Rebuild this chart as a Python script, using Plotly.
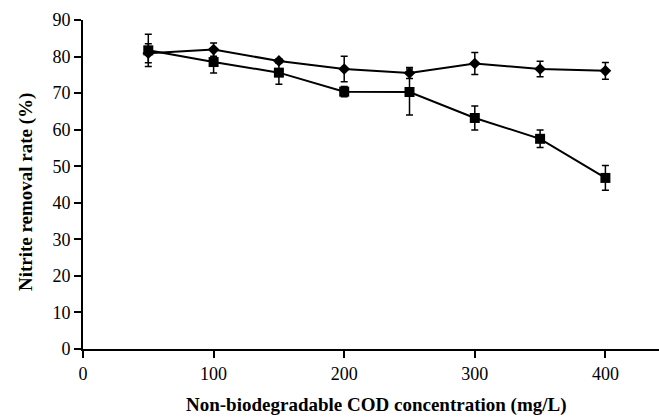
import plotly.graph_objects as go

cod = [50, 100, 150, 200, 250, 300, 350, 400]
diamond_rate = [80.9, 81.9, 78.8, 76.6, 75.5, 78.1, 76.6, 76.1]
diamond_err = [2.6, 1.8, 0.6, 3.5, 1.5, 3.0, 2.1, 2.3]
square_rate = [81.7, 78.5, 75.6, 70.4, 70.3, 63.2, 57.5, 46.8]
square_err = [4.4, 3.0, 3.2, 1.4, 6.3, 3.3, 2.4, 3.4]
x_ticks = [0, 100, 200, 300, 400]
y_ticks = [0, 10, 20, 30, 40, 50, 60, 70, 80, 90]

W, H = 659, 417
L, R, T, B = 83, 0, 19.5, 67.7

fig = go.Figure()
fig.add_trace(go.Scatter(
    x=cod, y=diamond_rate, mode="lines+markers",
    line=dict(color="black", width=2),
    marker=dict(symbol="diamond", size=9, color="black"),
    error_y=dict(type="data", array=diamond_err, visible=True, color="black", thickness=1.5, width=3.5),
    showlegend=False, cliponaxis=False))
fig.add_trace(go.Scatter(
    x=cod, y=square_rate, mode="lines+markers",
    line=dict(color="black", width=2),
    marker=dict(symbol="square", size=10, color="black"),
    error_y=dict(type="data", array=square_err, visible=True, color="black", thickness=1.5, width=3.5),
    showlegend=False, cliponaxis=False))

font = dict(family="Liberation Serif", size=18, color="black")
tfont = dict(family="Liberation Serif", size=19, color="black")
fig.update_layout(
    width=W, height=H,
    margin=dict(l=L, r=R, t=T, b=B, pad=0),
    paper_bgcolor="white", plot_bgcolor="white",
    font=font,
    xaxis=dict(range=[0, (W - L) / 1.306], tickvals=x_ticks, ticks="outside", ticklen=7, tickwidth=1.5,
               tickcolor="black", showline=True, linecolor="black", linewidth=2, showgrid=False,
               zeroline=False, tickfont=font),
    yaxis=dict(range=[0, 90], tickvals=y_ticks, ticks="outside", ticklen=7, tickwidth=1.5,
               tickcolor="black", showline=True, linecolor="black", linewidth=2, showgrid=False,
               zeroline=False, tickfont=font),
    annotations=[
        dict(text="<b>Non-biodegradable COD concentration (mg/L)</b>", xref="paper", yref="paper",
             x=(376 - L) / (W - L), y=(349.3 - 405) / 329.8, xanchor="center", yanchor="middle",
             showarrow=False, font=tfont),
        dict(text="<b>Nitrite removal rate (%)</b>", xref="paper", yref="paper",
             x=(25.5 - L) / (W - L), y=(349.3 - 191.5) / 329.8, xanchor="center", yanchor="middle",
             textangle=-90, showarrow=False, font=tfont),
    ],
)
fig.write_html("out.html")
